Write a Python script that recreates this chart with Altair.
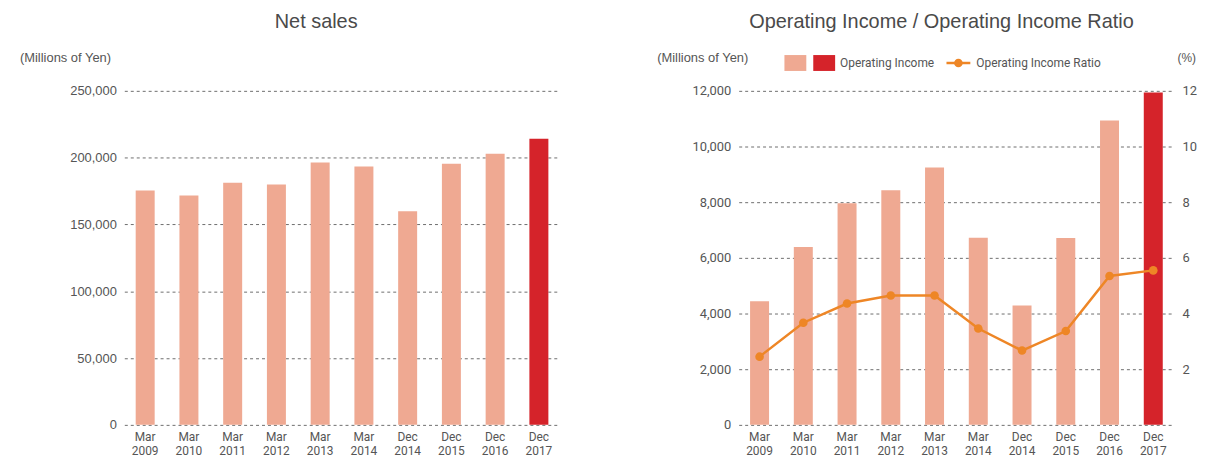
import altair as alt
import pandas as pd

periods = ["Mar 2009", "Mar 2010", "Mar 2011", "Mar 2012", "Mar 2013",
           "Mar 2014", "Dec 2014", "Dec 2015", "Dec 2016", "Dec 2017"]
net_sales = [175400, 171600, 181300, 179900, 196300,
             193300, 159900, 195500, 203000, 214100]
operating_income = [4440, 6390, 7960, 8430, 9250,
                    6725, 4290, 6714, 10930, 11940]
operating_ratio = [2.45, 3.67, 4.36, 4.65, 4.65,
                   3.46, 2.67, 3.37, 5.35, 5.55]
bar_colors = ["#EFA992"] * 9 + ["#D5232A"]

left_ticks = [0, 50000, 100000, 150000, 200000, 250000]
oi_ticks = [0, 2000, 4000, 6000, 8000, 10000, 12000]
ratio_ticks = [2, 4, 6, 8, 10, 12]

SALMON = "#EFA992"
RED = "#D5232A"
ORANGE = "#EE8626"
TXT = "#555555"
GRID = "#6e6e6e"
W, H = 438, 336

df = pd.DataFrame({"period": periods, "net_sales": net_sales,
                   "oi": operating_income, "ratio": operating_ratio,
                   "color": bar_colors})

x_enc = alt.X("period:N", sort=periods, title=None,
              scale=alt.Scale(paddingInner=0.566, paddingOuter=0.26),
              axis=alt.Axis(labelExpr="split(datum.label, ' ')", labelAngle=0,
                            labelFont="Roboto", labelFontSize=12, labelColor=TXT,
                            labelPadding=7, labelLineHeight=14, domain=False,
                            ticks=False, grid=False, labelBaseline="top"))


def txt(text, x, y, size=13, font="Liberation Sans", align="left",
        baseline="alphabetic", color=TXT):
    return alt.Chart(alt.Data(values=[{}])).mark_text(
        text=text, font=font, fontSize=size, align=align, baseline=baseline,
        color=color).encode(x=alt.value(x), y=alt.value(y))


base = alt.Chart(df)

# ---------- Left: Net sales ----------
left_bars = base.mark_bar().encode(
    x=x_enc,
    y=alt.Y("net_sales:Q", title=None,
            scale=alt.Scale(domain=[0, 250000], nice=False),
            axis=alt.Axis(values=left_ticks, labelExpr="format(datum.value, ',.0f')",
                          labelFont="Liberation Sans",
                          labelFontSize=13, labelColor=TXT, labelPadding=8,
                          domain=False, ticks=False, gridDash=[3, 3],
                          gridColor=GRID, gridWidth=1)),
    color=alt.Color("color:N", scale=None),
)

left = alt.layer(
    left_bars,
    txt("Net sales", 193, -63, size=20, align="center", color="#4a4a4a"),
    txt("(Millions of Yen)", -105, -29, size=13),
).properties(width=W, height=H)

# ---------- Right: Operating income ----------
oi_bars = base.mark_bar().encode(
    x=x_enc,
    y=alt.Y("oi:Q", title=None,
            scale=alt.Scale(domain=[0, 12000], nice=False),
            axis=alt.Axis(values=oi_ticks, labelExpr="format(datum.value, ',.0f')",
                          labelFont="Roboto",
                          labelFontSize=13, labelColor=TXT, labelPadding=8,
                          domain=False, ticks=False, gridDash=[3, 3],
                          gridColor=GRID, gridWidth=1)),
    color=alt.Color("color:N", scale=None),
)

ratio_y = alt.Y("ratio:Q", title=None,
                scale=alt.Scale(domain=[0, 12], nice=False),
                axis=alt.Axis(orient="right", values=ratio_ticks, labelFont="Roboto",
                              labelFontSize=13, labelColor=TXT, labelPadding=8,
                              domain=False, ticks=False, grid=False))

ratio_line = base.mark_line(color=ORANGE, strokeWidth=2.5).encode(x=x_enc, y=ratio_y)
ratio_pts = base.mark_point(filled=True, size=75, color=ORANGE, opacity=1).encode(
    x=x_enc, y=ratio_y)
ratio_layer = alt.layer(ratio_line, ratio_pts)

legend_layers = [
    alt.Chart(alt.Data(values=[{}])).mark_rect(color=SALMON).encode(
        x=alt.value(46), x2=alt.value(68), y=alt.value(-36), y2=alt.value(-20)),
    alt.Chart(alt.Data(values=[{}])).mark_rect(color=RED).encode(
        x=alt.value(75), x2=alt.value(97), y=alt.value(-36), y2=alt.value(-20)),
    txt("Operating Income", 102, -28, size=12, font="Roboto", baseline="middle"),
    alt.Chart(alt.Data(values=[{}])).mark_rule(color=ORANGE, strokeWidth=2.5).encode(
        x=alt.value(209), x2=alt.value(233), y=alt.value(-28)),
    alt.Chart(alt.Data(values=[{}])).mark_point(filled=True, size=75, color=ORANGE,
                                                opacity=1).encode(
        x=alt.value(221), y=alt.value(-28)),
    txt("Operating Income Ratio", 239, -28, size=12, font="Roboto", baseline="middle"),
]

right = alt.layer(
    oi_bars,
    ratio_layer,
    txt("Operating Income / Operating Income Ratio", 204, -63, size=20,
        align="center", color="#4a4a4a"),
    txt("(Millions of Yen)", -82, -29, size=13),
    txt("(%)", 460, -29, size=12, align="right"),
    *legend_layers,
).resolve_scale(y="independent").properties(width=W, height=H)

chart = alt.hconcat(left, right, spacing=98).properties(
    padding={"left": 12, "top": 3, "right": 0, "bottom": 0},
    background="white",
).configure_view(strokeWidth=0, stroke="transparent")

chart.save("out.html", embed_options={"renderer": "svg", "actions": False})
